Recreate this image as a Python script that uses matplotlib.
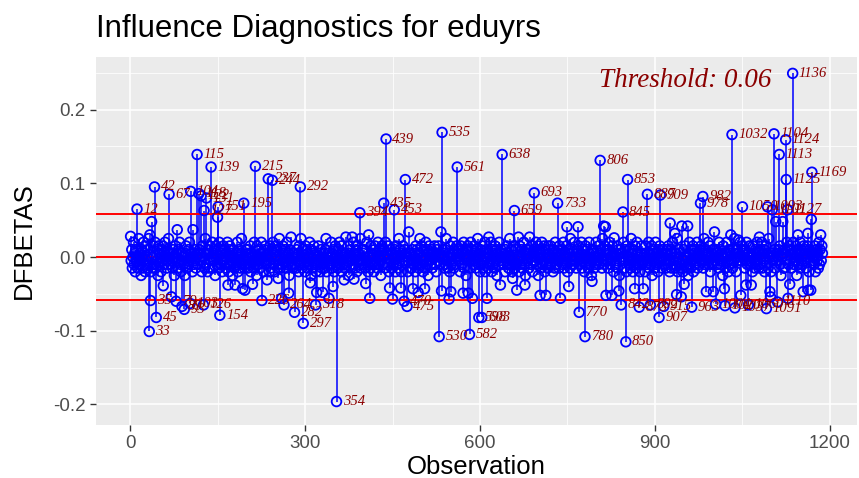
import matplotlib
matplotlib.use("Agg")
import matplotlib.pyplot as plt
from matplotlib.ticker import MultipleLocator

plt.rcParams['font.family'] = ['Liberation Sans', 'DejaVu Sans']
plt.rcParams['axes.unicode_minus'] = False

base = [
    3,-1,2,-3,0,4,-2,1,-4,2,-1,3,-3,0,5,-2,1,-1,-5,2,0,-3,4,-2,1,-4,3,-1,0,2,-3,5,-2,-1,1,-4,2,0,-3,3,
    -2,1,4,-3,0,-1,2,-5,3,-2,1,0,-4,2,-1,3,-3,1,-2,4,0,-1,-3,2,-2,5,-4,1,0,-2,3,-1,-3,2,1,-5,0,3,-2,1,
    0,-3,2,-1,4,-2,-4,1,3,-1,0,-2,2,-5,1,3,-3,0,-1,2,-2,4,-1,-3,1,0,-4,3,-2,1,2,-1,-3,0,4,-2,1,-5,2,-1,
    1,-2,-4,3,0,2,-1,-3,5,-2,0,1,-4,2,-3,1,3,-1,-2,0,4,-3,1,-1,2,-5,0,3,-2,-1,1,-3,4,0,-2,2,-1,-4,1,3,
    -1,2,0,-3,1,-2,4,-1,-4,2,3,-2,0,-1,1,-5,2,0,-3,3,-1,1,-2,4,-4,0,2,-1,-3,1,5,-2,0,-1,3,-3,1,-2,2,0,
    2,-3,1,0,-2,3,-4,1,-1,2,0,-3,4,-2,1,-1,-5,3,0,-2,2,-1,-3,1,4,-2,0,1,-4,2,-1,3,-2,0,-3,1,2,-1,-4,3,
    -3,0,2,-1,4,-2,1,-4,3,-1,0,2,-3,1,-2,5,-1,-3,2,0,-2,3,1,-4,0,2,-1,-3,4,-2,1,0,-5,2,-1,3,-2,1,-3,0,
    1,4,-2,0,-3,2,-1,1,-4,3,-2,0,5,-1,-3,2,1,-2,0,-4,3,-1,2,-3,1,0,-2,4,-1,-5,2,0,-3,1,3,-2,-1,2,-4,1,
    0,-2,3,-1,1,-4,2,0,-3,4,-2,1,-1,-3,2,5,-4,0,1,-2,3,-1,-2,0,4,-3,1,-1,2,-4,0,3,-2,1,-1,-3,2,0,4,-2,
    -1,3,-4,1,0,-2,2,-3,1,4,-1,-2,0,3,-5,1,2,-1,-3,0,2,-2,4,-1,1,-3,0,2,-4,3,-1,1,-2,0,5,-3,-1,2,-2,1,
    2,0,-3,1,-1,4,-2,-4,2,0,1,-3,3,-1,-2,1,0,-4,2,3,-2,-1,1,-3,4,0,-2,2,-1,-5,1,3,-2,0,-1,2,-3,4,-2,1,
    -2,1,3,-4,0,2,-1,-3,1,4,-2,0,-1,2,-4,3,1,-2,0,-3,5,-1,2,-2,-4,1,0,3,-1,-2,2,-3,1,0,4,-4,-1,2,1,-3,
    1,-1,-3,2,4,-2,0,1,-4,3,-1,2,-2,0,-3,1,5,-2,-1,3,0,-4,2,-1,1,-3,4,0,-2,2,-5,1,3,-1,0,-2,2,-3,1,0,
    0,3,-2,1,-4,2,-1,0,3,-3,1,-2,4,-1,-4,2,0,1,-3,2,-2,5,-1,0,-3,1,2,-4,3,-1,-2,0,1,4,-3,2,-1,-2,0,3,
    -3,1,2,-1,0,-4,3,1,-2,2,-1,4,-3,0,1,-5,2,-1,3,-2,0,1,-3,4,-1,2,-4,0,-2,3,1,-1,-3,2,0,5,-2,-1,1,-4,
    2,-2,0,3,-1,-3,1,4,-4,0,2,-1,1,-3,3,-2,0,-1,4,-4,2,1,-2,0,-3,3,-1,2,-5,1,0,-2,4,-1,-3,2,1,-1,0,-2,
    1,0,-4,2,-1,3,-2,1,-3,0,5,-2,-1,2,-4,1,3,-1,0,-3,2,-2,4,0,-1,1,-4,3,-2,0,2,-3,1,-1,4,-2,0,-5,2,1,
    -1,2,1,-3,4,0,-2,3,-1,-4,1,2,-3,0,-1,4,-2,1,3,-5,0,2,-1,-3,1,4,-2,0,-1,3,-4,2,1,-2,0,-3,3,-1,2,-2,
    3,-2,0,1,-4,2,-1,-3,4,0,-2,1,2,-1,-3,3,0,-5,1,2,-2,-1,4,-3,0,1,-2,3,-1,-4,2,0,1,-3,5,-1,-2,2,0,-1,
    -2,4,-1,0,-3,2,1,-4,3,-1,0,-2,1,4,-3,2,-1,0,-4,1,3,-2,0,2,-1,-3,4,1,-2,0,-5,3,-1,2,1,-3,0,-2,4,-1,
    0,-1,3,-2,1,-4,2,0,-3,5,-1,1,-2,3,0,-4,2,-1,1,-3,2,4,-2,0,-1,-3,3,1,-4,2,0,-2,1,-1,3,-3,2,0,-5,1,
    2,-3,0,1,-2,4,-1,-3,2,0,-4,3,1,-1,-2,2,0,-3,5,-1,1,-4,2,-2,0,3,-1,-3,4,1,-2,0,2,-4,1,-1,3,-2,0,-1,
    -1,1,-4,3,0,-2,2,-1,4,-3,1,0,-2,3,-5,1,2,-1,0,-3,4,-2,1,-1,-4,2,0,3,-2,1,-1,-3,2,0,4,-1,-2,1,-3,2,
    1,-2,3,-1,-4,0,2,-3,1,4,-2,-1,0,2,-3,1,-1,5,-4,0,2,-2,1,-3,3,0,-1,-4,2,1,-2,3,-1,0,-3,2,-5,1,4,-2,
    -3,2,0,-1,3,-4,1,2,-2,0,-1,4,-3,1,0,-2,2,-4,3,-1,1,0,-3,5,-2,-1,2,-3,0,1,4,-2,-1,3,-4,0,1,-2,2,-1,
    0,3,-1,-4,2,1,-2,0,-3,4,-1,2,-2,-1,1,-5,3,0,-2,2,-3,1,4,-1,0,-4,2,-2,1,3,-1,0,-3,2,-1,5,-2,1,-4,0,
    2,-1,-3,1,0,4,-2,-1,3,-4,1,0,2,-3,-1,2,4,-2,0,-5,1,3,-1,-2,2,0,-4,3,1,-1,-3,2,0,-2,4,-1,1,-3,0,2,
    -2,0,4,-3,1,-1,2,-4,0,3,-2,1,-1,-3,5,0,-2,2,-4,1,3,-1,0,-2,2,-3,4,-1,1,-4,0,2,-1,3,-2,-5,1,0,2,-3,
    1,-3,2,0,-1,4,-4,1,-2,3,0,-1,2,-3,1,-4,4,-2,0,1,-1,3,-5,2,0,-2,1,-3,4,-1,2,-2,0,-4,3,1,-1,2,-3,0,
    3,-1,0,-4,2,1,-2,4,-3,0,1,-1,-2,3,-4,2,0,-1,1,-3,4,-2,2,0,-1,3,1,
]

# points that poke out of the band but stay inside the threshold
mid = {
    1: 0.028, 34: 0.030, 37: 0.048, 57: -0.039, 71: -0.054, 81: 0.037, 108: 0.037,
    150: 0.054, 168: -0.038, 180: -0.038, 193: -0.043, 197: -0.045, 210: -0.037,
    235: -0.031, 254: -0.029, 260: -0.056, 272: -0.049, 276: 0.027, 309: -0.035,
    320: -0.048, 330: -0.048, 341: -0.056, 348: -0.040, 367: -0.031, 370: 0.027,
    381: 0.027, 384: -0.030, 404: -0.036, 409: 0.030, 411: -0.056, 445: -0.042,
    450: -0.057, 464: -0.042, 478: 0.034, 485: -0.043, 494: -0.048, 505: -0.043,
    533: 0.034, 534: -0.046, 547: -0.057, 550: -0.047, 571: -0.049, 580: -0.049,
    587: -0.056, 612: -0.056, 615: 0.027, 635: -0.038, 656: -0.029, 663: -0.045,
    666: 0.027, 677: -0.038, 685: 0.027, 703: -0.052, 713: -0.052, 738: -0.056,
    749: 0.041, 752: -0.040, 768: 0.041, 792: -0.033, 812: 0.042, 815: 0.041,
    816: -0.052, 826: -0.052, 830: 0.026, 838: -0.046, 865: -0.043, 880: -0.043,
    926: 0.046, 934: 0.032, 937: -0.051, 945: -0.054, 946: 0.042, 950: -0.037,
    956: 0.042, 988: -0.047, 1000: -0.047, 1002: 0.034, 1019: -0.043, 1030: 0.030,
    1043: 0.023, 1047: -0.052, 1056: -0.038, 1065: -0.038, 1079: 0.027, 1097: -0.047,
    1098: -0.054, 1107: 0.048, 1119: 0.048, 1128: -0.056, 1131: -0.037, 1145: 0.030,
    1154: -0.047, 1162: 0.032, 1163: -0.045, 1167: -0.045, 1168: 0.051, 1184: 0.030,
}

# labelled observations beyond the threshold
big = {
    12: 0.065, 33: -0.101, 35: -0.059, 42: 0.095, 45: -0.082, 67: 0.085,
    79: -0.060, 89: -0.067, 93: -0.071, 103: -0.063, 104: 0.089, 115: 0.139,
    118: 0.086, 122: 0.083, 126: -0.065, 127: 0.063, 131: 0.080, 139: 0.122,
    151: 0.068, 154: -0.079, 195: 0.073, 215: 0.123, 226: -0.059, 237: 0.106,
    244: 0.104, 264: -0.065, 282: -0.075, 292: 0.095, 297: -0.090, 318: -0.065,
    354: -0.196, 394: 0.060, 435: 0.073, 439: 0.160, 453: 0.064, 470: -0.060,
    472: 0.105, 475: -0.067, 530: -0.108, 535: 0.169, 561: 0.122, 582: -0.105,
    598: -0.082, 603: -0.082, 638: 0.139, 659: 0.063, 693: 0.087, 733: 0.073,
    770: -0.075, 780: -0.108, 806: 0.131, 842: -0.065, 845: 0.061, 850: -0.115,
    853: 0.105, 873: -0.068, 887: 0.085, 892: -0.065, 907: -0.082, 909: 0.084,
    915: -0.067, 963: -0.068, 978: 0.073, 982: 0.082, 1004: -0.064, 1020: -0.066,
    1032: 0.166, 1037: -0.069, 1050: 0.068, 1060: -0.065, 1091: -0.070, 1093: 0.068,
    1101: 0.064, 1104: 0.167, 1110: -0.061, 1113: 0.139, 1124: 0.159, 1125: 0.105,
    1127: 0.064, 1136: 0.249, 1169: 0.115,
}

thresh = 0.058
thresh_text = "Threshold: 0.06"

n = len(base)
obs = list(range(1, n + 1))
dfb = [b * 0.005 for b in base]
for k, v in mid.items():
    dfb[k - 1] = v
for k, v in big.items():
    dfb[k - 1] = v

fig = plt.figure(figsize=(8.59, 4.78), dpi=100)
ax = fig.add_axes([96 / 859, 1 - 425 / 478, 761 / 859, 368 / 478])
ax.set_facecolor('#EBEBEB')
for s in ax.spines.values():
    s.set_visible(False)

# ggplot style grid
ax.xaxis.set_major_locator(MultipleLocator(300))
ax.xaxis.set_minor_locator(MultipleLocator(150))
ax.yaxis.set_major_locator(MultipleLocator(0.1))
ax.yaxis.set_minor_locator(MultipleLocator(0.05))
ax.grid(which='major', color='white', lw=1.1, zorder=0)
ax.grid(which='minor', color='white', lw=0.55, zorder=0)
ax.set_axisbelow(True)
ax.tick_params(which='minor', length=0)
ax.tick_params(which='major', length=4, width=1, color='#333333',
               labelcolor='#4D4D4D', labelsize=13.5)

ax.vlines(obs, 0, dfb, color='blue', lw=1.1, zorder=2)
for h in (0, thresh, -thresh):
    ax.axhline(h, color='red', lw=1.4, zorder=3)
ax.scatter(obs, dfb, s=48, facecolors='none', edgecolors='blue', linewidths=1.3, zorder=4)

for k in big:
    ax.annotate(str(k), (k, dfb[k - 1]), xytext=(4.5, 0), textcoords='offset points',
                ha='left', va='center', fontsize=10.5, color='#8B0000',
                family='Liberation Serif', style='italic', zorder=5)

ax.text(0.774, 0.935, thresh_text, transform=ax.transAxes, ha='center', va='center',
        fontsize=19.5, color='#8B0000', family='Liberation Serif', style='italic')

ax.set_ylim(-0.2278, 0.2712)
ax.set_xlim(1 - 0.05 * (n - 1), n + 0.05 * (n - 1))
ax.set_xticks([0, 300, 600, 900, 1200])
ax.set_yticks([-0.2, -0.1, 0.0, 0.1, 0.2])
ax.set_yticklabels(['-0.2', '-0.1', '0.0', '0.1', '0.2'])

ax.set_xlabel('Observation', fontsize=18.5, color='black', labelpad=2)
ax.set_ylabel('DFBETAS', fontsize=18.5, color='black', labelpad=12)
fig.text(96 / 859, 1 - 37 / 478, 'Influence Diagnostics for eduyrs', fontsize=22.5,
         ha='left', va='baseline', color='black')

fig.savefig('out.png', dpi=100)
